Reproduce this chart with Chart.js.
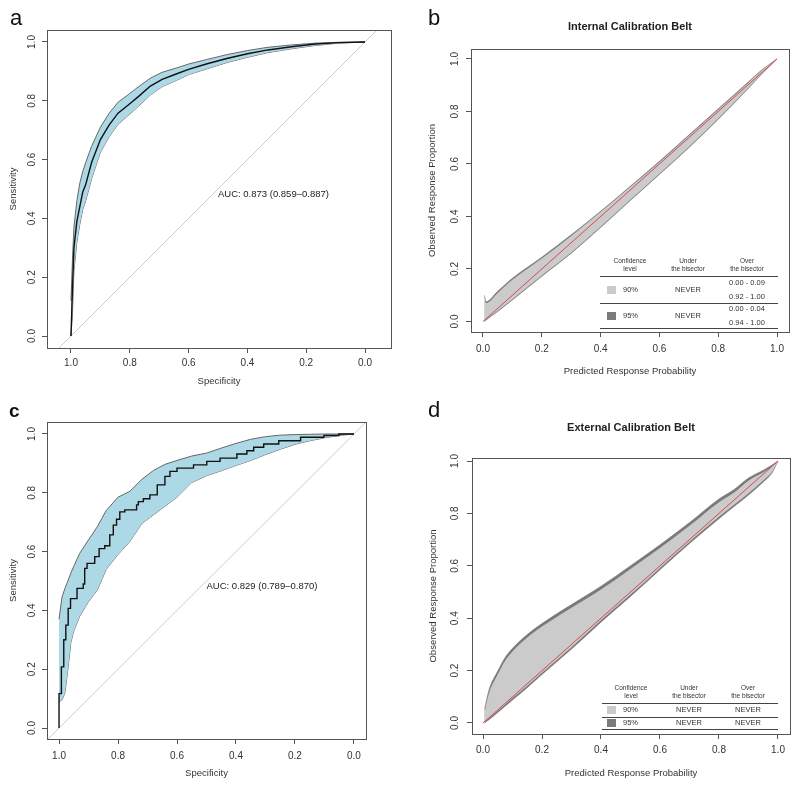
<!DOCTYPE html>
<html>
<head>
<meta charset="utf-8">
<script src="https://cdn.jsdelivr.net/npm/chart.js@4.4.1/dist/chart.umd.min.js"></script>
<style>
body { margin: 0; background: #fff; width: 800px; height: 787px; position: relative; overflow: hidden; }
canvas { position: absolute; }
</style>
</head>
<body>
<canvas id="pa" width="400" height="392" style="left:0;top:0"></canvas>
<canvas id="pb" width="400" height="392" style="left:400px;top:0"></canvas>
<canvas id="pc" width="400" height="395" style="left:0;top:392px"></canvas>
<canvas id="pd" width="400" height="395" style="left:400px;top:392px"></canvas>
<script>
const FONT = "'Liberation Sans', Arial, sans-serif";
const tickVals = [0, 0.2, 0.4, 0.6, 0.8, 1.0];

// --- panel a: ROC, development cohort ---
const specA = [1.0, 0.995, 0.99, 0.98, 0.97, 0.96, 0.95, 0.93, 0.90, 0.87, 0.84, 0.80, 0.77, 0.73, 0.69, 0.64, 0.60, 0.54, 0.47, 0.40, 0.33, 0.25, 0.17, 0.09, 0.0];
const sensA = [0, 0.16, 0.30, 0.39, 0.44, 0.49, 0.515, 0.59, 0.668, 0.718, 0.758, 0.79, 0.815, 0.85, 0.873, 0.892, 0.907, 0.925, 0.944, 0.96, 0.973, 0.984, 0.993, 0.998, 1.0];
const sensHiA = [0.12, 0.26, 0.37, 0.46, 0.52, 0.56, 0.59, 0.645, 0.71, 0.758, 0.795, 0.825, 0.848, 0.877, 0.897, 0.912, 0.925, 0.94, 0.957, 0.971, 0.982, 0.99, 0.996, 0.999, 1.0];
const sensLoA = [0, 0.08, 0.22, 0.32, 0.38, 0.43, 0.46, 0.535, 0.625, 0.678, 0.72, 0.755, 0.782, 0.82, 0.848, 0.87, 0.889, 0.908, 0.93, 0.948, 0.964, 0.977, 0.988, 0.996, 1.0];
const aucA = "AUC: 0.873 (0.859\u20130.887)";

// --- panel c: ROC, validation cohort (stepped curve) ---
const specC = [1.0, 0.992, 0.984, 0.977, 0.969, 0.961, 0.939, 0.918, 0.913, 0.905, 0.879, 0.864, 0.845, 0.828, 0.816, 0.805, 0.794, 0.777, 0.737, 0.731, 0.714, 0.692, 0.667, 0.641, 0.624, 0.600, 0.544, 0.499, 0.454, 0.397, 0.363, 0.340, 0.306, 0.255, 0.181, 0.102, 0.051, 0.0];
const sensC = [0, 0.117, 0.208, 0.30, 0.35, 0.407, 0.44, 0.475, 0.49, 0.543, 0.56, 0.583, 0.61, 0.62, 0.657, 0.69, 0.71, 0.735, 0.742, 0.759, 0.77, 0.78, 0.793, 0.827, 0.856, 0.873, 0.884, 0.895, 0.907, 0.918, 0.932, 0.943, 0.955, 0.966, 0.977, 0.989, 0.995, 1.0];
const ciSpecC = [1.0, 0.99, 0.98, 0.97, 0.96, 0.95, 0.93, 0.90, 0.87, 0.84, 0.80, 0.76, 0.72, 0.68, 0.64, 0.60, 0.55, 0.50, 0.45, 0.40, 0.35, 0.30, 0.25, 0.20, 0.15, 0.10, 0.05, 0.0];
const sensHiC = [0.37, 0.445, 0.475, 0.50, 0.527, 0.55, 0.594, 0.64, 0.685, 0.74, 0.785, 0.805, 0.845, 0.876, 0.897, 0.91, 0.925, 0.935, 0.952, 0.968, 0.982, 0.991, 0.996, 0.998, 0.999, 1.0, 1.0, 1.0];
const sensLoC = [0.09, 0.095, 0.12, 0.20, 0.29, 0.33, 0.38, 0.43, 0.47, 0.54, 0.59, 0.634, 0.695, 0.725, 0.755, 0.785, 0.835, 0.858, 0.875, 0.893, 0.91, 0.93, 0.948, 0.965, 0.977, 0.987, 0.995, 1.0];
const aucC = "AUC: 0.829 (0.789\u20130.870)";

// --- panel b: internal calibration belt ---
const probB = [0.005, 0.01, 0.05, 0.1, 0.2, 0.3, 0.4, 0.5, 0.6, 0.7, 0.8, 0.9, 0.95, 1.0];
const hi95B = [0.10, 0.075, 0.115, 0.165, 0.245, 0.33, 0.42, 0.514, 0.61, 0.71, 0.81, 0.91, 0.96, 1.0];
const lo95B = [0.0, 0.005, 0.038, 0.082, 0.172, 0.26, 0.358, 0.46, 0.56, 0.662, 0.77, 0.885, 0.945, 1.0];
const hi90B = [0.092, 0.07, 0.109, 0.159, 0.24, 0.326, 0.417, 0.511, 0.607, 0.707, 0.807, 0.907, 0.958, 1.0];
const lo90B = [0.003, 0.008, 0.041, 0.085, 0.175, 0.263, 0.361, 0.463, 0.563, 0.665, 0.773, 0.888, 0.947, 1.0];
const underB = ["NEVER", "NEVER"];
const overB = [["0.00 - 0.09", "0.92 - 1.00"], ["0.00 - 0.04", "0.94 - 1.00"]];

// --- panel d: external calibration belt ---
const probD = [0.005, 0.02, 0.05, 0.075, 0.1, 0.15, 0.2, 0.3, 0.4, 0.5, 0.6, 0.7, 0.8, 0.85, 0.9, 0.95, 0.98, 1.0];
const hi95D = [0.05, 0.125, 0.198, 0.25, 0.285, 0.338, 0.38, 0.452, 0.522, 0.60, 0.68, 0.765, 0.855, 0.89, 0.935, 0.965, 0.985, 1.0];
const lo95D = [0.0, 0.012, 0.04, 0.064, 0.088, 0.135, 0.185, 0.282, 0.385, 0.483, 0.585, 0.685, 0.78, 0.825, 0.87, 0.92, 0.955, 1.0];
const hi90D = [0.042, 0.113, 0.186, 0.238, 0.273, 0.326, 0.368, 0.44, 0.51, 0.588, 0.668, 0.753, 0.843, 0.879, 0.925, 0.957, 0.98, 1.0];
const lo90D = [0.004, 0.018, 0.047, 0.071, 0.095, 0.142, 0.192, 0.289, 0.392, 0.49, 0.592, 0.692, 0.787, 0.832, 0.877, 0.926, 0.959, 1.0];
const underD = ["NEVER", "NEVER"];
const overD = [["NEVER"], ["NEVER"]];

const beltLevels = ["90%", "95%"];
const beltHeader = [["Confidence", "level"], ["Under", "the bisector"], ["Over", "the bisector"]];

const LIGHT = "#cbcbcb";
const DARK = "#7a7a7a";

function pts(xs, ys) {
	return xs.map((x, i) => ({ x: x, y: ys[i] }));
}

function axis(cfg) {
	const horiz = cfg.pos === "bottom";
	return {
		type: "linear",
		position: cfg.pos,
		min: cfg.min,
		max: cfg.max,
		reverse: !!cfg.reverse,
		afterBuildTicks: (s) => { s.ticks = tickVals.map((v) => ({ value: v })); },
		afterFit: (s) => { if (horiz) s.height = cfg.size; else s.width = cfg.size; },
		grid: { drawOnChartArea: false, drawTicks: true, tickLength: 5, color: "#555" },
		border: { display: false },
		ticks: {
			autoSkip: false,
			padding: cfg.pad,
			color: "#333",
			font: { family: FONT, size: 10 },
			minRotation: horiz ? 0 : 90,
			maxRotation: horiz ? 0 : 90,
			crossAlign: horiz ? "near" : "center",
			callback: (v) => Number(v).toFixed(1),
		},
		title: {
			display: true,
			text: cfg.title,
			color: "#333",
			font: { family: FONT, size: 9.5 },
			padding: horiz ? { top: 0, bottom: cfg.tpad } : { top: cfg.tpad, bottom: 0 },
		},
	};
}

// draws box, panel letter, title, AUC label and belt table
function decor(spec) {
	return {
		id: "decor",
		afterDraw(chart) {
			const ctx = chart.ctx;
			const a = chart.chartArea;
			ctx.save();
			ctx.strokeStyle = "#555";
			ctx.lineWidth = 1;
			ctx.strokeRect(Math.round(a.left) + 0.5, Math.round(a.top) + 0.5, Math.round(a.right - a.left), Math.round(a.bottom - a.top));

			ctx.fillStyle = "#111";
			ctx.textAlign = "left";
			ctx.textBaseline = "alphabetic";
			ctx.font = (spec.letterBold ? "bold " : "") + spec.letterSize + "px " + FONT;
			ctx.fillText(spec.letter, spec.letterX, 25);

			if (spec.title) {
				ctx.font = "bold 11px " + FONT;
				ctx.textAlign = "center";
				ctx.textBaseline = "middle";
				ctx.fillStyle = "#222";
				ctx.fillText(spec.title, (a.left + a.right) / 2, spec.titleY);
			}

			if (spec.auc) {
				ctx.font = "9.5px " + FONT;
				ctx.textAlign = "left";
				ctx.textBaseline = "top";
				ctx.fillStyle = "#222";
				ctx.fillText(spec.auc, chart.scales.x.getPixelForValue(0.5), chart.scales.y.getPixelForValue(0.5) + 1);
			}

			if (spec.table) drawTable(ctx, spec.table);
			ctx.restore();
		},
	};
}

function drawTable(ctx, t) {
	ctx.fillStyle = "#333";
	ctx.textAlign = "center";
	ctx.textBaseline = "middle";
	ctx.font = "6.5px " + FONT;
	beltHeader.forEach((h, i) => {
		ctx.fillText(h[0], t.cols[i], t.headY[0]);
		ctx.fillText(h[1], t.cols[i], t.headY[1]);
	});
	ctx.strokeStyle = "#444";
	ctx.lineWidth = 1;
	t.lines.forEach((y) => {
		ctx.beginPath();
		ctx.moveTo(t.x0, y + 0.5);
		ctx.lineTo(t.x1, y + 0.5);
		ctx.stroke();
	});
	ctx.font = "7.5px " + FONT;
	beltLevels.forEach((lvl, i) => {
		const y = t.rowY[i];
		ctx.fillStyle = i === 0 ? LIGHT : DARK;
		ctx.fillRect(t.swX, y - 4, 9, 8);
		ctx.fillStyle = "#333";
		ctx.textAlign = "left";
		ctx.fillText(lvl, t.swX + 16, y);
		ctx.textAlign = "center";
		ctx.fillText(t.under[i], t.cols[1], y);
		const ov = t.over[i];
		if (ov.length === 1) {
			ctx.fillText(ov[0], t.cols[2], y);
		} else {
			ctx.fillText(ov[0], t.cols[2], y - 7);
			ctx.fillText(ov[1], t.cols[2], y + 6.5);
		}
	});
}

function rocDatasets(spec, sens, ciSpec, hi, lo, stepped) {
	return [
		{ data: pts(spec, sens), showLine: true, borderColor: "#111", borderWidth: 1.4, stepped: stepped, pointRadius: 0, fill: false },
		{ data: pts(ciSpec, hi), showLine: true, borderColor: "#666", borderWidth: 1, pointRadius: 0, backgroundColor: "#add8e6", fill: "+1" },
		{ data: pts(ciSpec, lo), showLine: true, borderColor: "#666", borderWidth: 1, pointRadius: 0, fill: false },
		{ data: [{ x: 1.2, y: -0.2 }, { x: -0.2, y: 1.2 }], showLine: true, borderColor: "#cfcfcf", borderWidth: 1, pointRadius: 0, fill: false },
	];
}

function beltDatasets(p, hi90, lo90, hi95, lo95) {
	const smooth = { showLine: true, pointRadius: 0, cubicInterpolationMode: "monotone" };
	return [
		{ data: [{ x: 0, y: 0 }, { x: 1, y: 1 }], showLine: true, borderColor: "#e0474c", borderWidth: 1, pointRadius: 0, fill: false },
		Object.assign({ data: pts(p, hi90), borderWidth: 0, borderColor: LIGHT, backgroundColor: LIGHT, fill: "+1" }, smooth),
		Object.assign({ data: pts(p, lo90), borderWidth: 0, borderColor: LIGHT, fill: false }, smooth),
		Object.assign({ data: pts(p, hi95), borderWidth: 0.6, borderColor: DARK, backgroundColor: DARK, fill: "+1" }, smooth),
		Object.assign({ data: pts(p, lo95), borderWidth: 0.6, borderColor: DARK, fill: false }, smooth),
	];
}

function makeChart(id, spec) {
	return new Chart(document.getElementById(id), {
		type: "scatter",
		data: { datasets: spec.datasets },
		options: {
			responsive: false,
			animation: false,
			devicePixelRatio: 1,
			layout: { padding: { left: 0, top: spec.top, right: spec.right, bottom: 0 } },
			plugins: { legend: { display: false }, tooltip: { enabled: false } },
			elements: { point: { radius: 0 }, line: { tension: 0 } },
			scales: { x: axis(spec.x), y: axis(spec.y) },
		},
		plugins: [decor(spec)],
	});
}

makeChart("pa", {
	datasets: rocDatasets(specA, sensA, specA, sensHiA, sensLoA, false),
	top: 30, right: 9,
	x: { pos: "bottom", min: -0.0884, max: 1.0816, reverse: true, size: 44, pad: 4.5, title: "Specificity", tpad: 5 },
	y: { pos: "left", min: -0.0408, max: 1.0408, size: 47, pad: 3, title: "Sensitivity", tpad: 8 },
	letter: "a", letterX: 10, letterSize: 22, letterBold: false,
	auc: aucA,
});

makeChart("pb", {
	datasets: beltDatasets(probB, hi90B, lo90B, hi95B, lo95B),
	top: 49, right: 11,
	x: { pos: "bottom", min: -0.0408, max: 1.0408, size: 60, pad: 6.5, title: "Predicted Response Probability", tpad: 14.5 },
	y: { pos: "left", min: -0.040, max: 1.038, size: 71, pad: 4, title: "Observed Response Proportion", tpad: 26.5 },
	letter: "b", letterX: 28, letterSize: 22, letterBold: false,
	title: "Internal Calibration Belt", titleY: 27,
	table: {
		x0: 200, x1: 378, cols: [230, 288, 347], headY: [261, 269], lines: [276, 303, 328],
		swX: 207, rowY: [290, 316], under: underB, over: overB,
	},
});

makeChart("pc", {
	datasets: rocDatasets(specC, sensC, ciSpecC, sensHiC, sensLoC, "after"),
	top: 30, right: 34,
	x: { pos: "bottom", min: -0.0408, max: 1.0408, reverse: true, size: 48, pad: 6.5, title: "Specificity", tpad: 8 },
	y: { pos: "left", min: -0.0374, max: 1.0408, size: 47, pad: 3, title: "Sensitivity", tpad: 8 },
	letter: "c", letterX: 9, letterSize: 19, letterBold: true,
	auc: aucC,
});

makeChart("pd", {
	datasets: beltDatasets(probD, hi90D, lo90D, hi95D, lo95D),
	top: 66, right: 10,
	x: { pos: "bottom", min: -0.0373, max: 1.0407, size: 53, pad: 5.5, title: "Predicted Response Probability", tpad: 8 },
	y: { pos: "left", min: -0.042, max: 1.0115, size: 72, pad: 5, title: "Observed Response Proportion", tpad: 27.5 },
	letter: "d", letterX: 28, letterSize: 22, letterBold: false,
	title: "External Calibration Belt", titleY: 36,
	table: {
		x0: 202, x1: 378, cols: [231, 289, 348], headY: [296, 304], lines: [311, 325, 337],
		swX: 207, rowY: [318, 331], under: underD, over: overD,
	},
});
</script>
</body>
</html>
